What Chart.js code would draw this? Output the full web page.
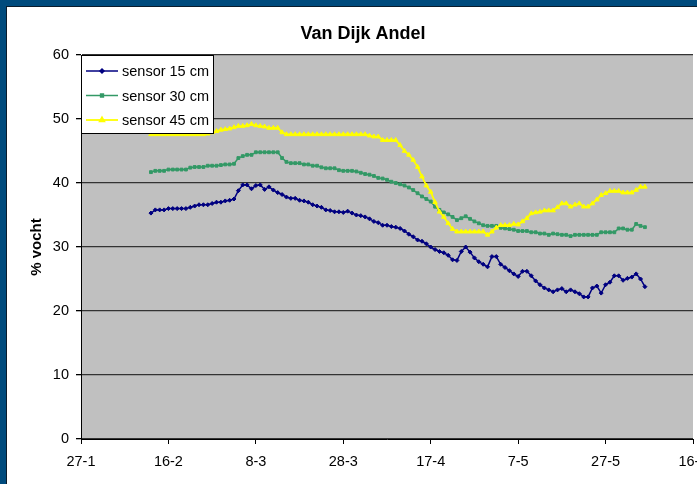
<!DOCTYPE html>
<html>
<head>
<meta charset="utf-8">
<title>Van Dijk Andel</title>
<script src="https://cdn.jsdelivr.net/npm/chart.js@4.4.1/dist/chart.umd.min.js"></script>
<style>
  html, body { margin: 0; padding: 0; }
  body { width: 697px; height: 484px; overflow: hidden; background: #004b7d; position: relative; }
  #frame { position: absolute; left: 6px; top: 6px; width: 760px; height: 500px;
           border-left: 1px solid #0b1c2c; border-top: 1px solid #0b1c2c; background: #fff; }
  #chart { position: absolute; left: 0; top: 0; }
</style>
</head>
<body>
<div id="frame"><canvas id="chart" width="720" height="477"></canvas></div>
<script>
// x axis: days counted from 27-1, one tick every 20 days
const tickLabels = ['27-1', '16-2', '8-3', '28-3', '17-4', '7-5', '27-5', '16-6'];
const firstDay = 16; // first reading is 12-2

const sensor15 = [
  35.3, 35.8, 35.8, 35.8, 36.0, 36.0, 36.0, 36.0, 36.0, 36.2,
  36.4, 36.6, 36.6, 36.6, 36.8, 37.0, 37.0, 37.2, 37.3, 37.5,
  38.8, 39.7, 39.7, 39.1, 39.6, 39.7, 39.0, 39.4, 38.9, 38.5,
  38.2, 37.8, 37.6, 37.6, 37.3, 37.2, 37.0, 36.6, 36.4, 36.2,
  35.8, 35.7, 35.5, 35.5, 35.4, 35.6, 35.3, 35.0, 34.9, 34.7,
  34.4, 34.0, 33.8, 33.4, 33.4, 33.2, 33.1, 32.9, 32.5, 32.0,
  31.6, 31.1, 30.9, 30.5, 30.0, 29.6, 29.3, 29.1, 28.7, 28.0,
  27.9, 29.3, 30.0, 29.2, 28.3, 27.7, 27.3, 26.9, 28.5, 28.5,
  27.3, 26.8, 26.3, 25.8, 25.4, 26.2, 26.2, 25.5, 24.7, 24.1,
  23.6, 23.3, 23.0, 23.3, 23.5, 23.0, 23.3, 23.0, 22.7, 22.2,
  22.2, 23.6, 23.9, 22.8, 24.1, 24.5, 25.5, 25.5, 24.8, 25.1,
  25.3, 25.8, 25.0, 23.8
];

const sensor30 = [
  41.7, 41.9, 41.9, 41.9, 42.1, 42.1, 42.1, 42.1, 42.1, 42.4,
  42.5, 42.5, 42.5, 42.7, 42.7, 42.7, 42.8, 42.9, 42.9, 43.0,
  43.9, 44.2, 44.4, 44.4, 44.8, 44.8, 44.8, 44.8, 44.8, 44.8,
  43.9, 43.3, 43.1, 43.1, 43.1, 42.9, 42.9, 42.7, 42.7, 42.45,
  42.3, 42.3, 42.3, 42.0, 41.9, 41.9, 41.9, 41.8, 41.6, 41.4,
  41.3, 41.1, 40.8, 40.7, 40.5, 40.2, 40.0, 39.8, 39.6, 39.3,
  38.9, 38.4, 37.9, 37.5, 37.1, 36.3, 35.8, 35.4, 35.1, 34.7,
  34.2, 34.5, 34.8, 34.4, 34.0, 33.7, 33.4, 33.3, 33.3, 33.3,
  33.0, 32.9, 32.8, 32.7, 32.5, 32.5, 32.5, 32.3, 32.3, 32.1,
  32.1, 31.9, 32.1, 32.0, 31.9, 31.9, 31.7, 31.9, 31.9, 31.9,
  31.9, 31.9, 31.9, 32.3, 32.3, 32.3, 32.3, 32.9, 32.9, 32.7,
  32.7, 33.6, 33.3, 33.1
];

const sensor45 = [
  47.6, 47.6, 47.6, 47.6, 47.6, 47.6, 47.6, 47.6, 47.6, 47.6,
  47.6, 47.6, 47.6, 47.7, 47.9, 48.1, 48.3, 48.4, 48.5, 48.7,
  48.9, 48.9, 49.0, 49.2, 49.0, 48.9, 48.8, 48.6, 48.6, 48.6,
  47.9, 47.6, 47.6, 47.6, 47.6, 47.6, 47.6, 47.6, 47.6, 47.6,
  47.6, 47.6, 47.6, 47.6, 47.6, 47.6, 47.6, 47.6, 47.6, 47.6,
  47.4, 47.25, 47.25, 46.7, 46.7, 46.7, 46.7, 45.9, 45.0, 44.4,
  43.6, 42.5, 41.0, 39.6, 38.6, 37.0, 35.5, 34.7, 33.7, 32.8,
  32.4, 32.4, 32.4, 32.4, 32.4, 32.4, 32.4, 31.9, 32.4, 33.0,
  33.4, 33.4, 33.4, 33.6, 33.5, 34.0, 34.5, 35.25, 35.4, 35.5,
  35.7, 35.7, 35.7, 36.2, 36.8, 36.8, 36.3, 36.6, 36.8, 36.3,
  36.3, 36.8, 37.4, 38.1, 38.4, 38.75, 38.75, 38.75, 38.5, 38.5,
  38.5, 38.9, 39.4, 39.4
];

const seriesNames = ['sensor 15 cm', 'sensor 30 cm', 'sensor 45 cm'];
const seriesColors = ['#000080', '#339966', '#ffff00'];
const seriesMarkers = ['rectRot', 'rect', 'triangle'];

const FONT = "'Liberation Sans', Arial, Helvetica, sans-serif";

function toPoints(values) {
  return values.map((v, i) => ({ x: firstDay + i, y: v }));
}

// grey plot area like the Excel chart
const plotBackground = {
  id: 'plotBackground',
  beforeDraw(chart) {
    const { ctx, chartArea: a } = chart;
    ctx.save();
    ctx.fillStyle = '#c0c0c0';
    ctx.fillRect(a.left, a.top, a.right - a.left, a.bottom - a.top);
    ctx.restore();
  }
};

const chartTitle = {
  id: 'chartTitle',
  afterDraw(chart) {
    const ctx = chart.ctx;
    ctx.save();
    ctx.font = 'bold 18px ' + FONT;
    ctx.fillStyle = '#000';
    ctx.textAlign = 'center';
    ctx.textBaseline = 'middle';
    ctx.fillText('Van Dijk Andel', 356, 27);
    ctx.restore();
  }
};

// boxed legend sitting in the top left corner of the plot
const boxLegend = {
  id: 'boxLegend',
  afterDraw(chart) {
    const { ctx, chartArea: a } = chart;
    const x = a.left, y = a.top + 0.5, w = 132, h = 78;
    ctx.save();
    ctx.fillStyle = '#fff';
    ctx.fillRect(x, y, w, h);
    ctx.strokeStyle = '#000';
    ctx.lineWidth = 1;
    ctx.strokeRect(x + 0.5, y, w, h);
    chart.data.datasets.forEach((ds, i) => {
      const cy = y + 15.5 + i * 24.5;
      ctx.strokeStyle = ds.borderColor;
      ctx.lineWidth = ds.borderWidth;
      ctx.beginPath();
      ctx.moveTo(x + 5, cy);
      ctx.lineTo(x + 37, cy);
      ctx.stroke();
      ctx.fillStyle = ds.borderColor;
      Chart.helpers.drawPoint(ctx, {
        pointStyle: ds.pointStyle, radius: ds.pointRadius, rotation: 0, borderWidth: 1
      }, x + 21, cy);
      ctx.fillStyle = '#000';
      ctx.font = '14.5px ' + FONT;
      ctx.textAlign = 'left';
      ctx.textBaseline = 'middle';
      ctx.fillText(ds.label, x + 41, cy + 1);
    });
    ctx.restore();
  }
};

const datasets = [sensor15, sensor30, sensor45].map((values, i) => ({
  label: seriesNames[i],
  data: toPoints(values),
  borderColor: seriesColors[i],
  backgroundColor: seriesColors[i],
  borderWidth: i === 2 ? 1.8 : 1.5,
  pointStyle: seriesMarkers[i],
  pointRadius: i === 2 ? 2.6 : 2,
  pointBorderWidth: 1,
  order: 2 - i, // later series on top, as in Excel
  tension: 0
}));

new Chart(document.getElementById('chart').getContext('2d'), {
  type: 'line',
  data: { datasets: datasets },
  options: {
    responsive: false,
    animation: false,
    layout: { padding: { left: 0, top: 48, right: 34, bottom: 0 } },
    plugins: {
      legend: { display: false },
      tooltip: { enabled: false }
    },
    scales: {
      x: {
        type: 'linear',
        min: 0,
        max: 140,
        afterFit: (scale) => { scale.height = 45; },
        afterBuildTicks: (scale) => {
          scale.ticks = tickLabels.map((_, i) => ({ value: i * 20 }));
        },
        ticks: {
          color: '#000',
          padding: 9,
          maxRotation: 0,
          autoSkip: false,
          font: { family: FONT, size: 14.5 },
          callback: (value) => tickLabels[value / 20]
        },
        grid: {
          drawOnChartArea: false,
          drawTicks: true,
          tickLength: 5,
          tickColor: '#000'
        },
        border: { color: '#000', width: 1 }
      },
      y: {
        min: 0,
        max: 60,
        afterFit: (scale) => { scale.width = 74; },
        ticks: {
          stepSize: 10,
          color: '#000',
          padding: 7,
          font: { family: FONT, size: 14.5 }
        },
        grid: {
          color: '#333',
          lineWidth: 1.3,
          tickLength: 5,
          tickColor: '#000'
        },
        border: { color: '#000', width: 1 },
        title: {
          display: true,
          text: '% vocht',
          color: '#000',
          padding: { top: 21, bottom: 0 },
          font: { family: FONT, size: 15, weight: 'bold' }
        }
      }
    }
  },
  plugins: [plotBackground, chartTitle, boxLegend]
});
</script>
</body>
</html>
